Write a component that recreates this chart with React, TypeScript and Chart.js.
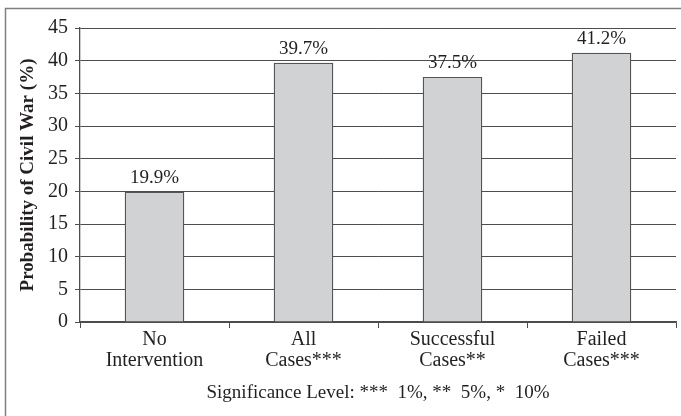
import React, { useEffect, useRef } from "react";
import { Chart, registerables } from "chart.js";

Chart.register(...registerables);

const categories: string[][] = [
  ["No", "Intervention"],
  ["All", "Cases***"],
  ["Successful", "Cases**"],
  ["Failed", "Cases***"],
];
const values: number[] = [19.9, 39.7, 37.5, 41.2];
const valueLabels: string[] = ["19.9%", "39.7%", "37.5%", "41.2%"];
const yTitle = "Probability of Civil War (%)";
const xTitle = "Significance Level: ***  1%, **  5%, *  10%";

const FONT = "'Liberation Serif', 'Times New Roman', serif";
const TEXT = "#231f20";
const GRID = "#4d4d4d";

const frame = {
  id: "frame",
  afterDraw(chart: any) {
    const ctx = chart.ctx;
    ctx.save();
    ctx.strokeStyle = "#808080";
    ctx.lineWidth = 1.5;
    ctx.strokeRect(5.5, 8.5, 700, 430);
    ctx.restore();
  },
};

const valueLabelPlugin = {
  id: "valueLabels",
  afterDatasetsDraw(chart: any) {
    const ctx = chart.ctx;
    const meta = chart.getDatasetMeta(0);
    ctx.save();
    ctx.fillStyle = TEXT;
    ctx.font = `19px ${FONT}`;
    ctx.textAlign = "center";
    ctx.textBaseline = "alphabetic";
    meta.data.forEach((bar: any, i: number) => {
      ctx.fillText(valueLabels[i], bar.x, bar.y - 9);
    });
    ctx.restore();
  },
};

export default function App() {
  const ref = useRef<HTMLCanvasElement | null>(null);
  useEffect(() => {
    if (!ref.current) return;
    const chart = new Chart(ref.current, {
      type: "bar",
      data: {
        labels: categories,
        datasets: [
          {
            data: values,
            backgroundColor: "#d1d2d4",
            borderColor: "#555555",
            borderWidth: 1.3,
            barPercentage: 0.4,
            categoryPercentage: 1,
          },
        ],
      },
      options: {
        responsive: false,
        animation: false,
        devicePixelRatio: 1,
        layout: { padding: { left: 0, top: 28, right: 5, bottom: 0 } },
        plugins: {
          legend: { display: false },
          tooltip: { enabled: false },
        },
        scales: {
          x: {
            offset: true,
            grid: {
              offset: true,
              drawOnChartArea: false,
              drawTicks: true,
              tickLength: 6,
              color: GRID,
              lineWidth: 1,
            },
            border: { display: true, color: GRID, width: 1.3 },
            ticks: {
              color: TEXT,
              font: { family: FONT, size: 20, lineHeight: 1.05 },
              padding: 1,
              maxRotation: 0,
              autoSkip: false,
            },
            title: {
              display: true,
              text: xTitle,
              color: TEXT,
              font: { family: FONT, size: 19 },
              padding: { top: 0, bottom: 12 },
            },
            afterFit(scale: any) {
              scale.height = 94;
            },
          },
          y: {
            min: 0,
            max: 45,
            ticks: {
              stepSize: 5,
              color: TEXT,
              font: { family: FONT, size: 20 },
              padding: 7,
            },
            grid: {
              color: GRID,
              lineWidth: 1,
              drawTicks: true,
              tickLength: 5,
            },
            border: { display: true, color: GRID, width: 1.3 },
            title: {
              display: true,
              text: yTitle,
              color: TEXT,
              font: { family: FONT, size: 19, weight: "bold" },
              padding: { top: 17, bottom: 0 },
            },
            afterFit(scale: any) {
              scale.width = 80;
            },
          },
        },
      },
      plugins: [valueLabelPlugin, frame],
    });
    return () => chart.destroy();
  }, []);
  return (
    <div style={{ position: "absolute", left: 0, top: 0, width: 681, height: 416, background: "#fff" }}>
      <canvas ref={ref} width={681} height={416} style={{ width: 681, height: 416, display: "block" }} />
    </div>
  );
}
